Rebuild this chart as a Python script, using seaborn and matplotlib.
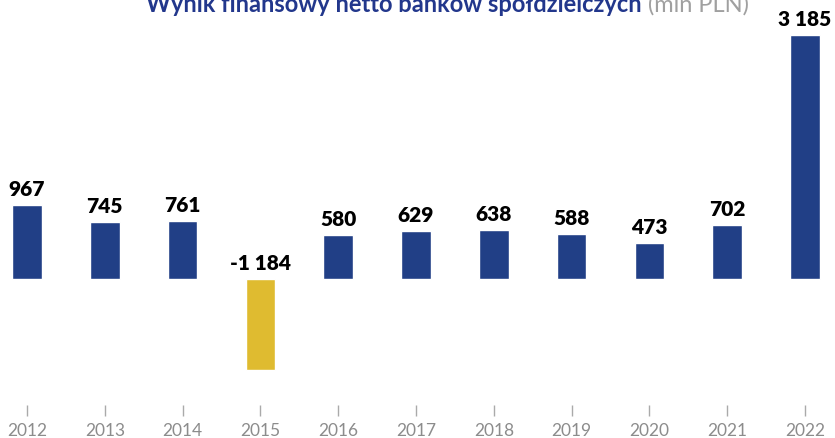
import pandas as pd
import matplotlib
matplotlib.use("Agg")
import matplotlib.pyplot as plt
import seaborn as sns

# data (mln PLN)
years = ["2012", "2013", "2014", "2015", "2016", "2017", "2018", "2019", "2020", "2021", "2022"]
values = [967, 745, 761, -1184, 580, 629, 638, 588, 473, 702, 3185]
labels = ["967", "745", "761", "-1 184", "580", "629", "638", "588", "473", "702", "3 185"]

BLUE = "#213f86"
YELLOW = "#dfbb30"
GREY = "#8c8c8c"

df = pd.DataFrame({"year": years, "value": values})
colors = [YELLOW if v < 0 else BLUE for v in values]

sns.set_style("white")
plt.rcParams["font.family"] = ["Lato", "DejaVu Sans"]

fig = plt.figure(figsize=(8.35, 4.38), dpi=100)
# axes spans full width, bottom edge at the tick marks
ax = fig.add_axes([0, 22 / 438, 1, 416 / 438])

sns.barplot(data=df, x="year", y="value", hue="year", palette=colors,
            width=0.38, legend=False, ax=ax, saturation=1)

# px scale: ~0.0766 px per unit, zero line 137 px above axes bottom
scale = 244 / 3185
ax.set_ylim(-137 / scale, 279 / scale)
ax.set_xlim(-27 / 77.8, (835 - 27) / 77.8)

for i, (v, lab) in enumerate(zip(values, labels)):
    y = v if v > 0 else 0
    ax.text(i, y + 6 / scale, lab, ha="center", va="bottom",
            fontsize=15, fontweight="heavy", color="black")

sns.despine(ax=ax, left=True, bottom=True, top=True, right=True)
ax.set_yticks([])
ax.set_xlabel("")
ax.set_ylabel("")
ax.tick_params(axis="x", direction="in", length=8, width=1, color="#aaaaaa",
               pad=5, labelsize=12.5, labelcolor=GREY, bottom=True)

# title is partly cut off by the top edge, as in the reference
fig.text(642 / 835, 1 - 12 / 438, "Wynik finansowy netto banków spółdzielczych",
         ha="right", va="baseline", fontsize=17, fontweight="bold", color="#22378c")
fig.text(648 / 835, 1 - 12 / 438, "(mln PLN)", ha="left", va="baseline",
         fontsize=17, color="#a0a0a0")

fig.savefig("out.png", dpi=100)
